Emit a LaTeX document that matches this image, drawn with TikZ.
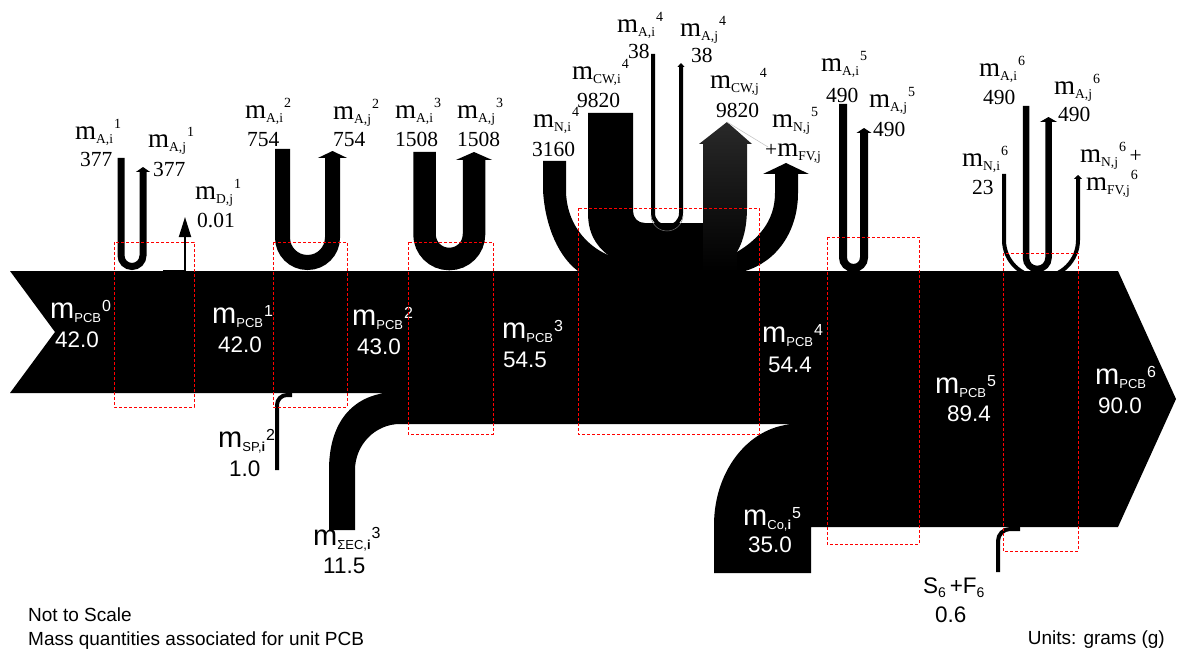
\documentclass[tikz,border=0pt]{standalone}
\usepackage{fontspec}
\setmainfont{Liberation Serif}
\setsansfont{Liberation Sans}
\usetikzlibrary{arrows.meta}
\newcommand\fs[1]{\fontsize{#1}{#1}\selectfont}
\newcommand\serm[2]{{\fs{27}m}\raisebox{-4pt}{\fs{13.5}#1}\hspace{1pt}\raisebox{11pt}{\fs{14}#2}}
\newcommand\sanm[2]{{\fs{29}m}\raisebox{-4pt}{\fs{13}#1}\hspace{1pt}\raisebox{7pt}{\fs{16}#2}}
\begin{document}
\begin{tikzpicture}[x=1pt,y=-1pt,
  lab/.style={inner sep=0pt, anchor=base west},
  serlab/.style={lab, font=\fs{21.5}},
  sanlab/.style={lab, font=\sffamily\fs{22.5}},
  wlab/.style={sanlab, text=white},
  foot/.style={lab, font=\sffamily\fs{19}},
  stagebox/.style={draw=red, dash pattern=on 3pt off 2pt, line width=0.9pt},
  loopflow/.style={draw=black, line width=#1}
]
\useasboundingbox (0,0) rectangle (1181,650);

% main band
\fill[black] (10,271) -- (1118,271) -- (1176,399) -- (1118,527) -- (811,527) -- (811,573) -- (714,573) -- (714,525)
  .. controls (714,469) and (751,424) .. (797,424) -- (400,424)
  .. controls (375,424) and (355,445) .. (355,470) -- (355,530) -- (329,530) -- (329,470)
  .. controls (329,425) and (350,398) .. (385,393) -- (10,393) -- (55,332) -- cycle;

% stage 4 inflows / outflows
\fill[black] (543,161) -- (566,161) -- (566,190) .. controls (566,222) and (585,245) .. (608,255) -- (608,271) -- (578,271)
  .. controls (560,258) and (545,228) .. (543,190) -- cycle;
\fill[black] (588,113) -- (633,113) -- (633,211) .. controls (633,218) and (638,223) .. (645,223) -- (705,223) -- (705,271)
  -- (606,271) -- (608,255) .. controls (595,245) and (588,232) .. (588,213) -- cycle;
\shade[top color=black!84, bottom color=black] (703,144) -- (699,144) -- (727,122) -- (752,144) -- (747,144) -- (747,207)
  .. controls (747,225) and (744,240) .. (737,252) -- (737,271) -- (703,271) -- cycle;
\fill[black] (775,174) -- (763,174) -- (786,163) -- (809,174) -- (798,174) -- (798,193)
  .. controls (798,232) and (776,262) .. (745,271) -- (737,271) -- (737,252)
  .. controls (757,240) and (775,222) .. (775,193) -- cycle;
\coordinate (cwtip) at (727,122);
\coordinate (fvlead) at (768,147);
\draw[gray!45, line width=0.6pt] (cwtip) -- (fvlead);

% air loops
\draw[loopflow=7pt, rounded corners=10.9pt, -{Triangle[width=14pt,length=5pt]}] (121,158) -- (121,266.5) -- (143,266.5) -- (143,167);
\draw[loopflow=15pt, rounded corners=24.9pt, -{Triangle[width=29pt,length=7pt]}] (282.5,149) -- (282.5,262.5) -- (332.5,262.5) -- (332.5,151);
\draw[loopflow=22.5pt, rounded corners=24.6pt, -{Triangle[width=36pt,length=8pt]}] (424.5,152) -- (424.5,259) -- (474,259) -- (474,152);
\draw[loopflow=4pt, rounded corners=13.9pt, -{Triangle[width=7pt,length=4pt]}] (653,54) -- (653,227) -- (681,227) -- (681,63);
\draw[black!55, line width=0.5pt] (651,215) arc[start angle=180, end angle=0, radius=16];
\draw[loopflow=8pt, rounded corners=10.4pt, -{Triangle[width=15pt,length=5pt]}] (843,104) -- (843,268) -- (864,268) -- (864,128);
\draw[loopflow=4pt, rounded corners=36.9pt, -{Triangle[width=8pt,length=4pt]}] (1004,174) -- (1004,277) -- (1078,277) -- (1078,175);
\draw[loopflow=6.5pt, rounded corners=11.1pt, -{Triangle[width=17pt,length=5pt]}] (1026,106) -- (1026,269) -- (1048.5,269) -- (1048.5,117);

% small streams
\draw[loopflow=1.8pt, -{Triangle[width=12pt,length=20pt]}] (163,271) -| (185,217);
\draw[loopflow=4pt, rounded corners=10pt] (277,470) |- (292,395);
\draw[loopflow=4pt, rounded corners=12pt] (998,572) |- (1020,529);

% serif labels
\node[serlab] (ai1) at (75,140) {\serm{A,i}{1}};
\node[serlab] (ai1v) at (80,167) {377};
\node[serlab] (aj1) at (148,148) {\serm{A,j}{1}};
\node[serlab] (aj1v) at (153,177) {377};
\node[serlab] (dj1) at (195,200) {\serm{D,j}{1}};
\node[serlab] (dj1v) at (197,227) {0.01};
\node[serlab] (ai2) at (245,119) {\serm{A,i}{2}};
\node[serlab] (ai2v) at (247,147) {754};
\node[serlab] (aj2) at (333,120) {\serm{A,j}{2}};
\node[serlab] (aj2v) at (333,147) {754};
\node[serlab] (ai3) at (395,119) {\serm{A,i}{3}};
\node[serlab] (ai3v) at (395,147) {1508};
\node[serlab] (aj3) at (457,119) {\serm{A,j}{3}};
\node[serlab] (aj3v) at (457,147) {1508};
\node[serlab] (ni4) at (533,128) {\serm{N,i}{4}};
\node[serlab] (ni4v) at (532,157) {3160};
\node[serlab] (cwi4) at (572,80) {\serm{CW,i}{4}};
\node[serlab] (cwi4v) at (577,108) {9820};
\node[serlab] (ai4) at (617,33) {\serm{A,i}{4}};
\node[serlab] (ai4v) at (628,59) {38};
\node[serlab] (aj4) at (680,37) {\serm{A,j}{4}};
\node[serlab] (aj4v) at (691,63) {38};
\node[serlab] (cwj4) at (710,89) {\serm{CW,j}{4}};
\node[serlab] (cwj4v) at (716,118) {9820};
\node[serlab] (nj5) at (772,128) {\serm{N,j}{5}};
\node[serlab] (fvj) at (765,157) {+\serm{FV,j}{}};
\node[serlab] (ai5) at (821,72) {\serm{A,i}{5}};
\node[serlab] (ai5v) at (826,103) {490};
\node[serlab] (aj5) at (869,108) {\serm{A,j}{5}};
\node[serlab] (aj5v) at (873,137) {490};
\node[serlab] (ai6) at (979,77) {\serm{A,i}{6}};
\node[serlab] (ai6v) at (983,105) {490};
\node[serlab] (aj6) at (1054,95) {\serm{A,j}{6}};
\node[serlab] (aj6v) at (1058,122) {490};
\node[serlab] (ni6) at (962,167) {\serm{N,i}{6}};
\node[serlab] (ni6v) at (972,194) {23};
\node[serlab] (nj6) at (1080,163) {\serm{N,j}{6}\,+};
\node[serlab] (fvj6) at (1086,190) {\serm{FV,j}{6}};

% sans labels in band
\node[wlab] (p0) at (50,318) {\sanm{PCB}{0}};
\node[wlab] (p0v) at (55,347) {42.0};
\node[wlab] (p1) at (212,323) {\sanm{PCB}{1}};
\node[wlab] (p1v) at (218,352) {42.0};
\node[wlab] (p2) at (352,325) {\sanm{PCB}{2}};
\node[wlab] (p2v) at (357,354) {43.0};
\node[wlab] (p3) at (502,338) {\sanm{PCB}{3}};
\node[wlab] (p3v) at (503,367) {54.5};
\node[wlab] (p4) at (762,342) {\sanm{PCB}{4}};
\node[wlab] (p4v) at (768,372) {54.4};
\node[wlab] (p5) at (935,393) {\sanm{PCB}{5}};
\node[wlab] (p5v) at (947,421) {89.4};
\node[wlab] (p6) at (1095,384) {\sanm{PCB}{6}};
\node[wlab] (p6v) at (1098,413) {90.0};
\node[wlab] (co5) at (743,525) {\sanm{Co,\textbf{i}}{5}};
\node[wlab] (co5v) at (748,552) {35.0};

% sans labels outside
\node[sanlab] (sp2) at (218,447) {\sanm{SP,\textbf{i}}{2}};
\node[sanlab] (sp2v) at (229,476) {1.0};
\node[sanlab] (ec3) at (313,545) {\sanm{ΣEC,\textbf{i}}{3}};
\node[sanlab] (ec3v) at (323,573) {11.5};
\node[sanlab] (sf6) at (923,593) {S\raisebox{-4pt}{\fs{14}6}\,+F\raisebox{-4pt}{\fs{14}6}};
\node[sanlab] (sf6v) at (935,622) {0.6};

\node[foot] (nts) at (28,621) {Not to Scale};
\node[foot] (mass) at (28,645) {Mass quantities associated for unit PCB};
\node[foot, anchor=base east] (units) at (1165,644) {Units: grams (g)};

% stage boxes
\draw[stagebox] (114,242) rectangle (194,407);
\draw[stagebox] (273,242) rectangle (347,407);
\draw[stagebox] (408,242) rectangle (493,434);
\draw[stagebox] (578,208) rectangle (759,434);
\draw[stagebox] (827,237) rectangle (919,544);
\draw[stagebox] (1003,253) rectangle (1078,551);
\end{tikzpicture}
\end{document}
